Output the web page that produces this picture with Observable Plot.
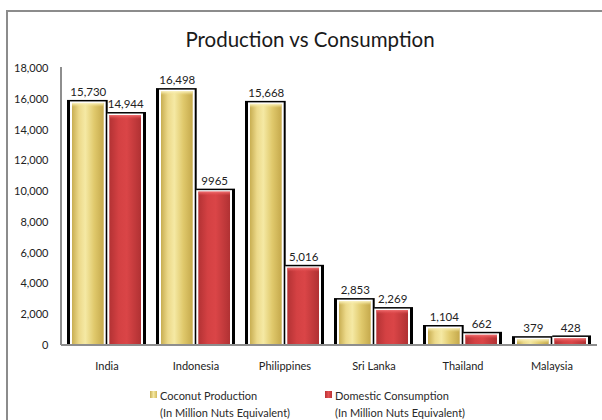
<!DOCTYPE html>
<html><head><meta charset="utf-8">
<script src="https://cdn.jsdelivr.net/npm/d3@7"></script>
<script src="https://cdn.jsdelivr.net/npm/@observablehq/plot@0.6"></script>
<style>
body{margin:0;background:#fff;font-family:Lato,"Open Sans",sans-serif;color:#222}
#wrap{position:relative;width:602px;height:420px;overflow:hidden;background:#fff}
#frame{position:absolute;left:6px;top:10px;width:700px;height:500px;border:2px solid #8c8c8c;box-sizing:border-box}
#title{position:absolute;top:26px;left:110px;width:400px;text-align:center;font-size:20.5px;line-height:26px;color:#1a1a1a;font-weight:400}
#chart{position:absolute;left:0;top:0}
.leg{position:absolute;top:387px;font-size:11px;line-height:17px;color:#2a2a2a}
.leg .sw{position:absolute;left:-10px;top:4px;width:7px;height:7px}
</style></head>
<body>
<div id="wrap">
  <div id="frame"></div>
  <div id="title">Production vs Consumption</div>
  <div id="chart"></div>
  <div class="leg" style="left:160px"><span class="sw" style="background:linear-gradient(90deg,#c9b055,#f4e7a0,#d3bb5e)"></span>Coconut Production<br>(In Million Nuts Equivalent)</div>
  <div class="leg" style="left:335px"><span class="sw" style="background:linear-gradient(90deg,#b83234,#e45052,#b83234)"></span>Domestic Consumption<br>(In Million Nuts Equivalent)</div>
</div>
<script>
const countries = ["India", "Indonesia", "Philippines", "Sri Lanka", "Thailand", "Malaysia"];
const production = [15730, 16498, 15668, 2853, 1104, 379];
const consumption = [14944, 9965, 5016, 2269, 662, 428];
const productionLabels = ["15,730", "16,498", "15,668", "2,853", "1,104", "379"];
const consumptionLabels = ["14,944", "9965", "5,016", "2,269", "662", "428"];
const yTicks = [0, 2000, 4000, 6000, 8000, 10000, 12000, 14000, 16000, 18000];

const data = countries.map((c, i) => ({
  country: c, prod: production[i], cons: consumption[i],
  pl: productionLabels[i], cl: consumptionLabels[i]
}));

const defs = () => {
  const ns = "http://www.w3.org/2000/svg";
  const g = document.createElementNS(ns, "defs");
  g.innerHTML = `
    <linearGradient id="gold" x1="0" x2="1" y1="0" y2="0">
      <stop offset="0" stop-color="#c8ae52"/>
      <stop offset="0.22" stop-color="#ecd98a"/>
      <stop offset="0.42" stop-color="#f5e9a4"/>
      <stop offset="0.7" stop-color="#e0c96c"/>
      <stop offset="1" stop-color="#c5a94c"/>
    </linearGradient>
    <linearGradient id="red" x1="0" x2="1" y1="0" y2="0">
      <stop offset="0" stop-color="#b33234"/>
      <stop offset="0.3" stop-color="#d44143"/>
      <stop offset="0.55" stop-color="#da4547"/>
      <stop offset="1" stop-color="#b03133"/>
    </linearGradient>
    <linearGradient id="goldTop" x1="0" x2="0" y1="0" y2="1">
      <stop offset="0" stop-color="#fbf3c4"/>
      <stop offset="1" stop-color="#f0e08e" stop-opacity="0"/>
    </linearGradient>
    <linearGradient id="redTop" x1="0" x2="0" y1="0" y2="1">
      <stop offset="0" stop-color="#f07072"/>
      <stop offset="1" stop-color="#e04a4c" stop-opacity="0"/>
    </linearGradient>`;
  return g;
};

const axisLines = (index, scales, values, dimensions) => {
  const {marginLeft, marginTop, width, marginRight} = dimensions;
  const ns = "http://www.w3.org/2000/svg";
  const g = document.createElementNS(ns, "g");
  const y0 = scales.y(0);
  g.innerHTML = `<line x1="${marginLeft}" x2="${marginLeft}" y1="${marginTop - 1}" y2="${y0}" stroke="#8e8e8e" stroke-width="2"/>
    <line x1="${marginLeft}" x2="${width - marginRight}" y1="${y0}" y2="${y0}" stroke="#8e8e8e" stroke-width="2"/>`;
  return g;
};

const barsFor = (key, lbl, fillId, topId, side) => {
  const fillIn = side < 0 ? {insetLeft: 10, insetRight: 47.3} : {insetLeft: 47.3, insetRight: 10};
  const blackIn = side < 0 ? {insetLeft: 5, insetRight: 43.3} : {insetLeft: 45.3, insetRight: 5};
  const whiteIn = {insetLeft: fillIn.insetLeft - 2, insetRight: fillIn.insetRight - 2};
  return [
    Plot.barY(data, {x: "country", y: key, fill: "black", ...blackIn, insetTop: -3}),
    Plot.barY(data, {x: "country", y: key, fill: "white", ...whiteIn, insetTop: -1.5}),
    Plot.barY(data, {x: "country", y: key, fill: `url(#${fillId})`, ...fillIn}),
    Plot.barY(data, {x: "country", y1: key, y2: key, fill: `url(#${topId})`, ...fillIn, insetBottom: -4}),
    Plot.text(data, {x: "country", y: key, text: lbl, dx: side * 18.7, dy: -11, fontSize: 11.5, fill: "#222"})
  ];
};

const chart = Plot.plot({
  width: 602,
  height: 380,
  marginTop: 68,
  marginBottom: 35,
  marginLeft: 61,
  marginRight: 5,
  style: {fontFamily: "Lato, 'Open Sans', sans-serif", fontSize: "11px", color: "#222", background: "transparent"},
  x: {domain: countries, padding: 0, label: null, tickSize: 0, tickPadding: 17},
  y: {domain: [0, 18000], ticks: yTicks, tickFormat: d3.format(","), label: null, tickSize: 0, tickPadding: 13},
  marks: [
    defs,
    ...barsFor("prod", "pl", "gold", "goldTop", -1),
    ...barsFor("cons", "cl", "red", "redTop", 1),
    axisLines
  ]
});
document.getElementById("chart").appendChild(chart);
</script>
</body></html>
